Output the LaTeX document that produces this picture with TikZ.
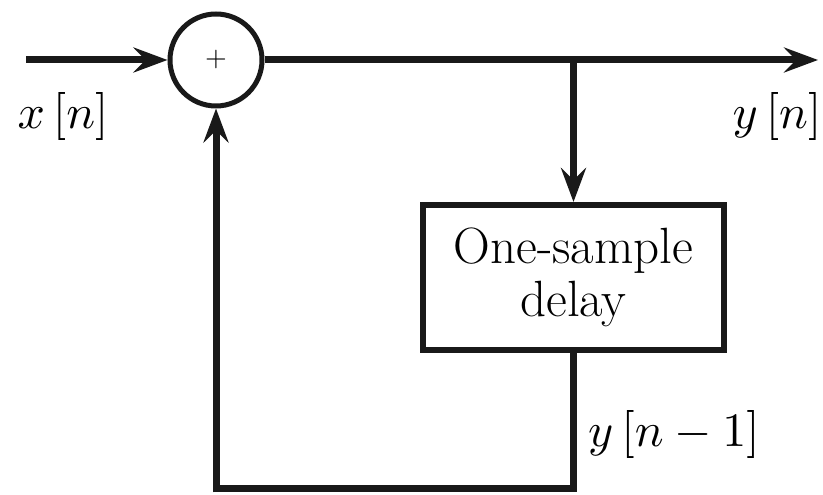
\documentclass[tikz,border=0pt]{standalone}
\usetikzlibrary{positioning, arrows.meta, calc}
\tikzset{
    sum circle/.style={circle, draw=black!90, line width=5pt, minimum size=92pt, inner sep=0pt},
    delay block/.style={rectangle, draw=black!90, line width=6pt, minimum width=301pt, minimum height=145pt, align=center, font=\fontsize{51}{53}\selectfont},
    signal/.style={line width=7pt, draw=black!90, -{Stealth[length=34pt, width=25pt, inset=12pt]}},
    wire/.style={line width=7pt, draw=black!90},
    sig label/.style={inner sep=0pt},
}
\newcommand{\biglabel}[1]{\scalebox{4.8}{$#1$}}

\begin{document}
\begin{tikzpicture}[x=1pt, y=1pt]
\useasboundingbox (0,0) rectangle (823,495);
\node[sum circle] (sum) at (216,435) {\scalebox{2.8}{+}};
\node[delay block] (delay) at (573.5,217.5) {One-sample\\delay};
\coordinate (in) at (26,435);
\coordinate (out) at (818,435);
\coordinate (tap) at (delay.north |- sum);
\coordinate (br) at (delay.south |- 0,6);
\coordinate (bl) at (sum |- br);
\draw[signal] (in) -- (sum.west);
\draw[signal] (sum.east) -- (out);
\draw[signal] (tap) -- (delay.north);
\draw[wire] (delay.south) -- (br) -- (bl);
\draw[signal] ($(bl)+(0,-3.5)$) -- (sum.south);
\node[sig label] (xn) at (63,378) {\biglabel{x\,[n]}};
\node[sig label] (yn) at (777,378) {\biglabel{y\,[n]}};
\node[sig label, anchor=west] (yn1) at (588,60) {\biglabel{y\,[n - 1]}};
\end{tikzpicture}
\end{document}
